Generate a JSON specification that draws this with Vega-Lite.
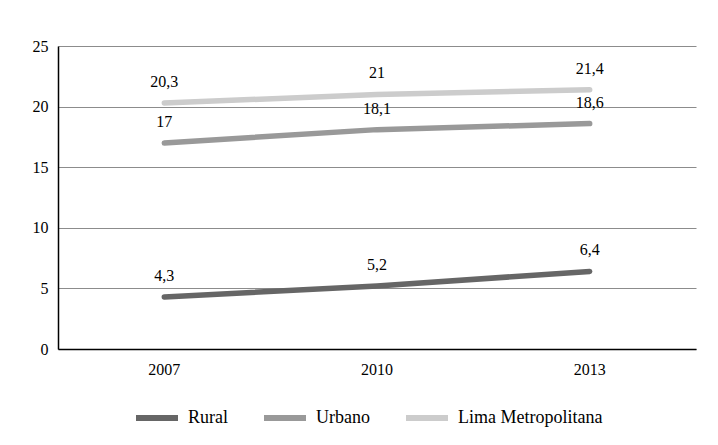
{
  "$schema": "https://vega.github.io/schema/vega-lite/v6.json",
  "width": 638,
  "height": 303,
  "autosize": "none",
  "padding": {"left": 58, "top": 46, "right": 22, "bottom": 96},
  "background": "white",
  "config": {
    "font": "Liberation Serif, DejaVu Serif, serif",
    "view": {"stroke": null},
    "axis": {"labelFont": "Liberation Serif, DejaVu Serif, serif", "labelFontSize": 16, "labelColor": "#000000"},
    "legend": {"labelFont": "Liberation Serif, DejaVu Serif, serif"},
    "text": {"font": "Liberation Serif, DejaVu Serif, serif"}
  },
  "data": {
    "values": [
      {"year": "2007", "zona": "Rural", "valor": 4.3, "label": "4,3"},
      {"year": "2010", "zona": "Rural", "valor": 5.2, "label": "5,2"},
      {"year": "2013", "zona": "Rural", "valor": 6.4, "label": "6,4"},
      {"year": "2007", "zona": "Urbano", "valor": 17, "label": "17"},
      {"year": "2010", "zona": "Urbano", "valor": 18.1, "label": "18,1"},
      {"year": "2013", "zona": "Urbano", "valor": 18.6, "label": "18,6"},
      {"year": "2007", "zona": "Lima Metropolitana", "valor": 20.3, "label": "20,3"},
      {"year": "2010", "zona": "Lima Metropolitana", "valor": 21, "label": "21"},
      {"year": "2013", "zona": "Lima Metropolitana", "valor": 21.4, "label": "21,4"}
    ]
  },
  "encoding": {
    "x": {
      "field": "year", "type": "ordinal", "title": null,
      "scale": {"type": "band", "paddingInner": 0, "paddingOuter": 0},
      "axis": {"labelAngle": 0, "ticks": false, "domainColor": "#000000", "domainWidth": 1.5, "labelPadding": 12, "grid": false}
    },
    "y": {
      "field": "valor", "type": "quantitative", "title": null,
      "scale": {"domain": [0, 25], "nice": false},
      "axis": {"values": [0, 5, 10, 15, 20, 25], "ticks": false, "domainColor": "#000000", "domainWidth": 1.5, "labelPadding": 10, "grid": true, "gridColor": "#8c8c8c", "gridWidth": 1.2}
    }
  },
  "layer": [
    {
      "mark": {"type": "line", "strokeWidth": 5.5, "strokeCap": "round"},
      "encoding": {
        "color": {
          "field": "zona", "type": "nominal",
          "scale": {"domain": ["Rural", "Urbano", "Lima Metropolitana"], "range": ["#666666", "#999999", "#cccccc"]},
          "legend": {
            "title": null, "orient": "none", "direction": "horizontal",
            "legendX": 75, "legendY": 348,
            "symbolType": "stroke", "symbolSize": 1764, "symbolStrokeWidth": 6,
            "labelFontSize": 18, "labelColor": "#000000",
            "labelOffset": 7, "columnPadding": 24
          }
        }
      }
    },
    {
      "mark": {"type": "text", "fontSize": 16, "dy": -21, "color": "#000000"},
      "encoding": {"text": {"field": "label"}}
    }
  ]
}
